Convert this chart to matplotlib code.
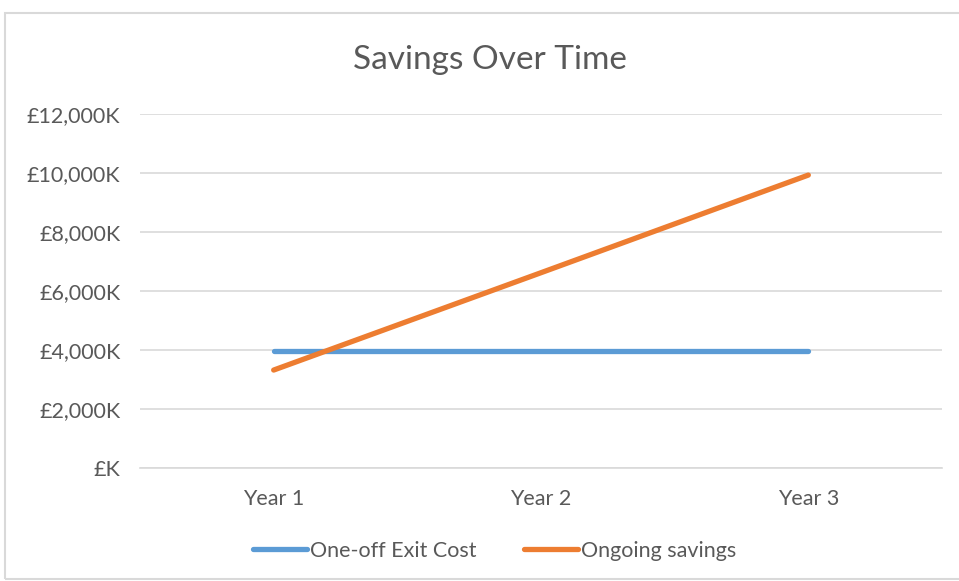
import matplotlib
matplotlib.use("Agg")
import matplotlib.pyplot as plt
from matplotlib.patches import Rectangle
from matplotlib.ticker import FuncFormatter

categories = ["Year 1", "Year 2", "Year 3"]
exit_cost = [3950, 3950, 3950]
ongoing_savings = [3320, 6620, 9930]
series_names = ["One-off Exit Cost", "Ongoing savings"]

plt.rcParams['font.family'] = ['Lato', 'DejaVu Sans']
text_color = "#595959"
grid_color = "#D9D9D9"

fig = plt.figure(figsize=(9.59, 5.81), dpi=100)
W, H = 959, 581
ax = fig.add_axes([140 / W, 1 - 468 / H, (942 - 140) / W, (468 - 114) / H])

x = list(range(len(categories)))
ax.plot(x, exit_cost, color="#5B9BD5", lw=3.8, solid_capstyle="round", label=series_names[0])
ax.plot(x, ongoing_savings, color="#ED7D31", lw=3.8, solid_capstyle="round", label=series_names[1])

ax.set_xlim(-0.5, 2.5)
ax.set_ylim(0, 12000)
ax.set_yticks(range(0, 12001, 2000))
ax.yaxis.set_major_formatter(FuncFormatter(lambda v, p: "£K" if v == 0 else f"£{int(v):,}K"))
ax.set_xticks(x)
ax.set_xticklabels(categories)
ax.grid(axis="y", color=grid_color, lw=1.2)
ax.set_axisbelow(True)
for s in ["top", "right", "left"]:
    ax.spines[s].set_visible(False)
ax.spines["bottom"].set_color(grid_color)
ax.spines["bottom"].set_linewidth(1.2)
ax.tick_params(axis="both", length=0, colors=text_color, labelsize=15.5)
ax.tick_params(axis="y", pad=14)
ax.tick_params(axis="x", pad=15)

fig.text(490 / W, 1 - 60 / H, "Savings Over Time", ha="center", va="center",
         fontsize=24, color=text_color)

leg = fig.legend(loc="center", bbox_to_anchor=(495 / W, 1 - 551 / H), ncol=2, frameon=False,
                 fontsize=15.5, handlelength=2.5, handletextpad=0.15, columnspacing=2.2)
for t in leg.get_texts():
    t.set_color(text_color)

fig.patches.append(Rectangle((5 / W, 0.003), 1.0, 1 - 13 / H - 0.003, transform=fig.transFigure,
                             fill=False, edgecolor="#D9D9D9", lw=1.5))

fig.savefig("out.png", dpi=100)
